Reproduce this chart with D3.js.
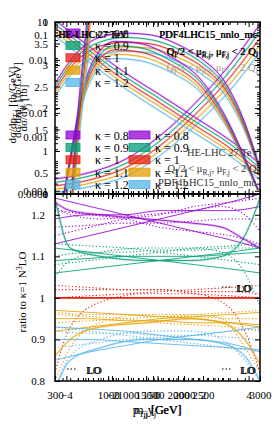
<!DOCTYPE html>
<html>
<head>
<meta charset="utf-8">
<script src="https://cdn.jsdelivr.net/npm/d3@7"></script>
<style>
body { margin: 0; background: #fff; }
text { font-family: "Liberation Serif", "DejaVu Serif", serif; fill: #000; }
</style>
</head>
<body>
<svg id="chart" width="274" height="431"></svg>
<script>
const kappas = ["0.8", "0.9", "1", "1.1", "1.2"];
const colors = ["#9400d3", "#009e73", "#e51e10", "#e69f00", "#56b4e9"];

// top panel, several overlaid observables
const yjX = [-4.5, -3.6, -2.5, -1.4, -0.3, 0.8, 1.9, 3.0, 3.8, 4.5];
const yjTop = [
  [2.57, 3.25, 3.65, 3.74, 3.70, 3.50, 3.16, 2.57, 1.70, 0.59],
  [2.49, 3.16, 3.54, 3.64, 3.59, 3.40, 3.07, 2.49, 1.65, 0.58],
  [2.42, 3.07, 3.44, 3.53, 3.49, 3.30, 2.98, 2.42, 1.60, 0.56],
  [2.35, 2.98, 3.34, 3.42, 3.39, 3.20, 2.89, 2.35, 1.55, 0.54],
  [2.27, 2.89, 3.23, 3.32, 3.28, 3.10, 2.80, 2.27, 1.50, 0.53]
];
const mjjX = [420, 525, 655, 830, 1090, 1420, 1815, 2210, 2540, 2800, 2975];
const mjjTop = [
  [0, 1.08, 2.32, 3.18, 3.55, 3.50, 3.20, 2.68, 1.82, 0.84, 0.10],
  [0, 1.05, 2.26, 3.09, 3.45, 3.40, 3.11, 2.61, 1.77, 0.81, 0.09],
  [0, 1.02, 2.19, 3.00, 3.35, 3.30, 3.02, 2.53, 1.72, 0.79, 0.09],
  [0, 0.99, 2.12, 2.91, 3.25, 3.20, 2.93, 2.45, 1.67, 0.77, 0.09],
  [0, 0.96, 2.06, 2.82, 3.15, 3.10, 2.84, 2.38, 1.62, 0.74, 0.08]
];
const riseX = [525, 590, 655, 720, 775];
const riseTop = [
  [0.30, 1.70, 2.90, 4.00, 5.00],
  [0.15, 1.48, 2.66, 3.74, 4.70],
  [0.00, 1.26, 2.42, 3.47, 4.40],
  [-0.15, 1.05, 2.18, 3.20, 4.10],
  [-0.30, 0.84, 1.94, 2.93, 3.80]
];
const ptX = [300, 760, 1220, 1680, 2140, 2600, 3000];
const ptjTop = [
  [11.4, 1.87, 0.34, 0.077, 0.017, 0.0037, 0.00075],
  [8.7, 1.43, 0.26, 0.059, 0.013, 0.0029, 0.00057],
  [6.7, 1.1, 0.2, 0.045, 0.010, 0.0022, 0.00044],
  [5.2, 0.85, 0.155, 0.035, 0.0077, 0.0017, 0.00034],
  [3.9, 0.65, 0.118, 0.026, 0.0059, 0.0013, 0.00026]
];
const pthTop = [
  [0.35, 0.50, 0.80, 1.35, 2.10, 3.00, 3.95],
  [0.27, 0.42, 0.70, 1.23, 1.97, 2.85, 3.79],
  [0.19, 0.33, 0.60, 1.12, 1.84, 2.70, 3.63],
  [0.11, 0.25, 0.50, 1.00, 1.71, 2.55, 3.47],
  [0.03, 0.17, 0.40, 0.89, 1.58, 2.40, 3.31]
];

// bottom panel: ratios to kappa=1 N3LO (solid) and LO (dotted)
const ratioA = [
  [1.19, 1.20, 1.20, 1.21, 1.21, 1.21, 1.22],
  [1.09, 1.095, 1.10, 1.10, 1.10, 1.105, 1.11],
  [1, 1, 1, 1, 1, 1, 1],
  [0.95, 0.95, 0.945, 0.945, 0.94, 0.94, 0.935],
  [0.90, 0.90, 0.895, 0.89, 0.885, 0.88, 0.875]
];
const ratioLoA = [
  [1.17, 1.175, 1.18, 1.18, 1.185, 1.19, 1.19],
  [1.10, 1.11, 1.11, 1.115, 1.115, 1.12, 1.12],
  [1.02, 1.02, 1.02, 1.02, 1.015, 1.015, 1.01],
  [0.965, 0.96, 0.96, 0.955, 0.955, 0.95, 0.95],
  [0.92, 0.915, 0.915, 0.91, 0.91, 0.905, 0.90]
];
const ratioB = [
  [1.24, 1.22, 1.20, 1.18, 1.16, 1.14, 1.12],
  [1.12, 1.11, 1.10, 1.09, 1.08, 1.07, 1.06],
  [1, 1, 1, 1, 1, 1, 1],
  [0.92, 0.93, 0.94, 0.95, 0.955, 0.96, 0.965],
  [0.85, 0.87, 0.885, 0.90, 0.91, 0.92, 0.93]
];
const ratioLoB = [
  [1.21, 1.20, 1.19, 1.17, 1.16, 1.15, 1.13],
  [1.13, 1.125, 1.12, 1.11, 1.10, 1.09, 1.08],
  [1.03, 1.025, 1.02, 1.02, 1.01, 1.005, 1.0],
  [0.94, 0.945, 0.95, 0.955, 0.96, 0.965, 0.97],
  [0.88, 0.89, 0.90, 0.905, 0.91, 0.92, 0.925]
];
const ratioC = [
  [1.13, 1.15, 1.17, 1.19, 1.21, 1.23, 1.25],
  [1.06, 1.07, 1.08, 1.09, 1.10, 1.11, 1.12],
  [1, 1, 1, 1, 1, 1, 1],
  [0.97, 0.965, 0.96, 0.955, 0.95, 0.94, 0.93],
  [0.93, 0.925, 0.92, 0.91, 0.90, 0.89, 0.87]
];
const ratioLoC = [
  [1.15, 1.17, 1.19, 1.20, 1.22, 1.23, 1.24],
  [1.08, 1.09, 1.10, 1.11, 1.12, 1.125, 1.13],
  [1.0, 1.005, 1.01, 1.015, 1.02, 1.025, 1.03],
  [0.96, 0.955, 0.95, 0.94, 0.935, 0.93, 0.92],
  [0.93, 0.92, 0.91, 0.90, 0.89, 0.88, 0.87]
];
const ratioDX = [300, 500, 900, 1500, 2100, 2500, 2800, 3000];
const ratioD = [
  [1.23, 1.21, 1.20, 1.19, 1.18, 1.17, 1.14, 1.12],
  [1.24, 1.12, 1.10, 1.09, 1.09, 1.10, 1.15, 1.24],
  [1, 1, 1, 1, 1, 1, 1, 1],
  [0.86, 0.90, 0.93, 0.94, 0.95, 0.94, 0.90, 0.84],
  [0.78, 0.85, 0.88, 0.90, 0.90, 0.89, 0.86, 0.80]
];
const ratioLoD = [
  [1.22, 1.20, 1.19, 1.20, 1.21, 1.22, 1.20, 1.16],
  [1.05, 1.09, 1.11, 1.12, 1.12, 1.11, 1.06, 0.98],
  [0.82, 0.93, 0.99, 1.01, 1.01, 0.99, 0.92, 0.82],
  [0.80, 0.88, 0.94, 0.96, 0.96, 0.95, 0.88, 0.82],
  [0.78, 0.86, 0.90, 0.92, 0.92, 0.90, 0.85, 0.80]
];

// tick labels of the overlaid axes
const ptTicks = [300, 1000, 1500, 2000, 3000];
const mTicks = [1000, 1500, 2000, 2500];
const yjTicks = [-4, -2, 0, 2, 4];
const linTicks = [0, 0.5, 1, 1.5, 2, 2.5, 3, 3.5];
const unitTicks = [0, 1];
const logTicks = [0.0001, 10];
const logTicksB = [0.001, 0.01, 0.1];
const logTicksC = [0.001, 0.01];
const ratioTicks = [0.8, 0.9, 1, 1.1, 1.2];

const L = 55, R = 260, T = 22, M = 194, B = 381;
const svg = d3.select("#chart");

const xPt = d3.scaleLinear().domain([300, 3000]).range([L, R]);
const xM = d3.scaleLinear().domain([-460, 3640]).range([L, R]);
const xY = d3.scaleLinear().domain([-4.5, 4.5]).range([L, R]);
const yLin = d3.scaleLinear().domain([0, 4]).range([M, T]);
const yUnit = d3.scaleLinear().domain([0, 1]).range([M, T]);
const yLog = d3.scaleLog().domain([1e-4, 10]).range([M, T]);
const yLogB = d3.scaleLog().domain([0.00091, 0.147]).range([M, T]);
const yLogC = d3.scaleLog().domain([0.000184, 0.031]).range([M, T]);
const yRatio = d3.scaleLinear().domain([0.8, 1.25]).range([B, M]);

const defs = svg.append("defs");
defs.append("clipPath").attr("id", "clipTop").append("rect")
  .attr("x", L).attr("y", T).attr("width", R - L).attr("height", M - T);
defs.append("clipPath").attr("id", "clipBot").append("rect")
  .attr("x", L).attr("y", M).attr("width", R - L).attr("height", B - M);

const gTop = svg.append("g").attr("clip-path", "url(#clipTop)");
const gBot = svg.append("g").attr("clip-path", "url(#clipBot)");

function drawSet(g, xs, series, xScale, yScale, dash, band) {
  const line = d3.line()
    .defined(d => d[1] > 0 || yScale !== yLog)
    .x(d => xScale(d[0])).y(d => yScale(d[1]))
    .curve(d3.curveMonotoneX);
  for (let i = series.length - 1; i >= 0; i--) {
    const pts = xs.map((x, j) => [x, series[i][j]]);
    const flat = series[i].every(v => v === 1);
    if (band && !flat) {
      g.append("path").attr("d", line(pts)).attr("fill", "none")
        .attr("stroke", colors[i]).attr("stroke-opacity", 0.22).attr("stroke-width", band);
    }
    g.append("path").attr("d", line(pts)).attr("fill", "none")
      .attr("stroke", colors[i]).attr("stroke-width", dash ? 1.1 : 0.85)
      .attr("stroke-dasharray", dash ? "1.2,2.2" : null);
  }
}

// top panel curves
drawSet(gTop, ptX, pthTop, xPt, yLin, false, 2.4);
drawSet(gTop, ptX, ptjTop, xPt, yLog, false, 2.4);
drawSet(gTop, yjX, yjTop, xY, yLin, false, 2.4);
drawSet(gTop, mjjX, mjjTop, xPt, yLin, false, 2.4);
drawSet(gTop, riseX, riseTop, xPt, yLin, false, 2.4);

// bottom panel curves
[[ptX, ratioLoA], [ptX, ratioLoB], [ptX, ratioLoC], [ratioDX, ratioLoD]]
  .forEach(([xs, s]) => drawSet(gBot, xs, s, xPt, yRatio, true, 0));
[[ptX, ratioA, 0], [ptX, ratioB, 0], [ptX, ratioC, 0], [ratioDX, ratioD, 2.6]]
  .forEach(([xs, s, b]) => drawSet(gBot, xs, s, xPt, yRatio, false, b));

// axes
const fmt = d3.format("~g");
function tidy(g) { g.select(".domain").remove(); g.selectAll("text").style("font-size", "11px"); return g; }

[[xPt, ptTicks, 300], [xM, mTicks, 0], [xY, yjTicks, null]].forEach(([sc, major, m0]) => {
  const minor = m0 === null ? [] : d3.range(m0, 3001, 100);
  [[T, d3.axisTop, -5, -3], [M, d3.axisTop, 5, 3], [M, d3.axisBottom, 5, 3], [B, d3.axisBottom, -5, -3]]
    .forEach(([y, ax, big, small]) => {
      if (minor.length) {
        svg.append("g").attr("transform", `translate(0,${y})`)
          .call(ax(sc).tickValues(minor).tickSize(small).tickFormat(""))
          .call(tidy);
      }
      svg.append("g").attr("transform", `translate(0,${y})`)
        .call(ax(sc).tickValues(major).tickSize(big).tickPadding(10)
          .tickFormat(y === B ? fmt : ""))
        .call(tidy);
    });
});

// y axes of both panels
const logMinor = [];
[0.0001, 0.001, 0.01, 0.1, 1].forEach(t => d3.range(2, 10).forEach(m => logMinor.push(t * m)));
[[L, d3.axisLeft], [R, d3.axisRight]].forEach(([x, ax], side) => {
  const lab = f => side === 0 ? f : "";
  const add = a => svg.append("g").attr("transform", `translate(${x},0)`).call(a).call(tidy);
  add(ax(yLog).tickValues(logMinor).tickSize(-3).tickFormat(""));
  add(ax(yLog).tickValues(logTicks).tickSize(-5).tickPadding(7).tickFormat(lab(fmt)));
  add(ax(yLogB).tickValues(logTicksB).tickSize(-5).tickPadding(7).tickFormat(lab(fmt)));
  add(ax(yLogC).tickValues(logTicksC).tickSize(-5).tickPadding(7).tickFormat(lab(fmt)));
  add(ax(yLin).tickValues(linTicks).tickSize(-5).tickPadding(7).tickFormat(lab(fmt)));
  add(ax(yUnit).tickValues(unitTicks).tickSize(-5).tickPadding(7).tickFormat(lab(fmt)));
  add(ax(yRatio).tickValues(ratioTicks).tickSize(-5).tickPadding(10).tickFormat(lab(fmt)));
});

// frames
[[T, M], [M, B]].forEach(([y0, y1]) => {
  svg.append("rect").attr("x", L).attr("y", y0).attr("width", R - L).attr("height", y1 - y0)
    .attr("fill", "none").attr("stroke", "#000").attr("stroke-width", 1.5);
});

// legends
function legend(x0, y0, w, labelX) {
  kappas.forEach((k, i) => {
    const y = y0 + i * 12.4;
    svg.append("rect").attr("x", x0).attr("y", y - 4).attr("width", w).attr("height", 8)
      .attr("fill", colors[i]).attr("fill-opacity", 0.75)
      .attr("stroke", colors[i]).attr("stroke-width", 0.8);
    svg.append("text").attr("x", labelX).attr("y", y + 4.5)
      .style("font-size", "12px").text("κ = " + k);
  });
}
legend(66, 33, 14, 95);
legend(66, 135, 14, 95);
legend(129, 135, 21, 155);

function qLabel(x, y, fill) {
  const t = svg.append("text").attr("x", x).attr("y", y).attr("text-anchor", "end")
    .style("font-size", "10.5px").style("fill", fill);
  const parts = [["Q", 0], ["I", 1], ["/2 < μ", 0], ["R,j", 1], [", μ", 0], ["F,j", 1], [" < 2 Q", 0], ["I", 1]];
  parts.forEach(([s, sub]) => {
    t.append("tspan").text(s).attr("font-size", sub ? "7.5px" : null)
      .attr("dy", sub ? 2.5 : (s === "Q" ? 0 : -2.5));
  });
}
function plain(x, y, s, size, anchor, fill) {
  svg.append("text").attr("x", x).attr("y", y).attr("text-anchor", anchor)
    .style("font-size", size).style("fill", fill || "#000").text(s);
}

plain(58, 38, "HE-LHC 27 TeV", "10px", "start");
plain(59, 37.5, "HE-LHC 27 TeV", "10px", "start");
plain(257, 38, "PDF4LHC15_nnlo_mc", "10.5px", "end");
plain(257.6, 37.6, "PDF4LHC15_nnlo_mc", "10.5px", "end");
qLabel(258, 55, "#000");
qLabel(258.6, 54.6, "#000");
qLabel(258, 71, "#999");
plain(259, 156, "HE-LHC 27 TeV", "10.5px", "end", "#333");
qLabel(259, 172, "#333");
plain(256, 186, "PDF4LHC15_nnlo_mc", "10.5px", "end", "#333");

// LO keys
[[67, 372, 86], [222, 372, 240], [222, 290, 236]].forEach(([x0, y, xt]) => {
  svg.append("line").attr("x1", x0).attr("x2", x0 + 10).attr("y1", y - 3).attr("y2", y - 3)
    .attr("stroke", "#000").attr("stroke-width", 1).attr("stroke-dasharray", "1.5,2");
  plain(xt, y + 2, "LO", "11px", "start");
  plain(xt + 1.2, y + 2, "LO", "11px", "start");
});

// axis titles
function rotLabel(x, y, parts, size) {
  const t = svg.append("text").attr("transform", `translate(${x},${y}) rotate(-90)`)
    .attr("text-anchor", "middle").style("font-size", size);
  parts.forEach(([s, mode], i) => {
    t.append("tspan").text(s).attr("font-size", mode ? "8px" : null)
      .attr("dy", mode === 1 ? 2.5 : mode === 2 ? -4 : (i ? (parts[i - 1][1] === 1 ? -2.5 : 4) : 0));
  });
}
rotLabel(16, 105, [["dσ/dp", 0], ["T,j", 1], [" [fb/GeV]", 0]], "11px");
rotLabel(21, 100, [["dσ/dm", 0], ["jj", 1], [" [fb/GeV]", 0]], "11px");
rotLabel(27, 108, [["dσ/dy", 0], ["j", 1], [" [fb]", 0]], "11px");
rotLabel(26, 292, [["ratio to κ=1 N", 0], ["3", 2], ["LO", 0]], "11px");

function xLabel(x, parts) {
  const t = svg.append("text").attr("x", x).attr("y", 414).attr("text-anchor", "middle")
    .style("font-size", "12px");
  parts.forEach(([s, sub], i) => {
    t.append("tspan").text(s).attr("font-size", sub ? "8.5px" : null)
      .attr("dy", sub ? 2.5 : (i ? -2.5 : 0));
  });
}
xLabel(157, [["p", 0], ["T,j", 1], [" [GeV]", 0]]);
xLabel(158, [["m", 0], ["jj", 1], [" [GeV]", 0]]);
xLabel(152, [["y", 0], ["j", 1]]);
</script>
</body>
</html>
